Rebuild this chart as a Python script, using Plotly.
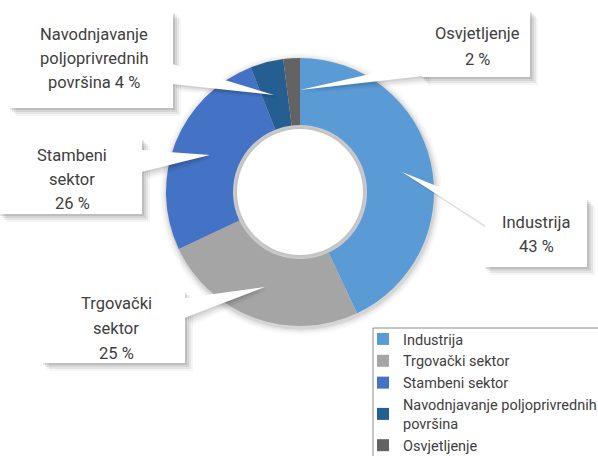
import plotly.graph_objects as go

categories = ["Industrija", "Trgovački sektor", "Stambeni sektor",
              "Navodnjavanje poljoprivrednih<br>površina", "Osvjetljenje"]
values = [43, 25, 26, 4, 2]
colors = ["#5b9bd5", "#a5a5a5", "#4472c4", "#255e91", "#636363"]
callout_lines = [
    ["Industrija", "43 %"],
    ["Trgovački", "sektor", "25 %"],
    ["Stambeni", "sektor", "26 %"],
    ["Navodnjavanje", "poljoprivrednih", "površina 4 %"],
    ["Osvjetljenje", "2 %"],
]

W, H = 598, 456
FONT = "Roboto"
TXT = "#404040"

def px(x):
    return x / W

def py(y):
    return 1 - y / H

# pie geometry (pixels)
cx, cy, R = 300, 192, 134
HOLE = 0.5

fig = go.Figure()
fig.add_trace(go.Pie(
    labels=categories, values=values, hole=HOLE, sort=False, direction="clockwise",
    rotation=0, marker=dict(colors=colors, line=dict(width=0)), textinfo="none",
    domain=dict(x=[px(cx - R), px(cx + R)], y=[py(cy + R), py(cy - R)]),
))

# callout geometry: box, wedge base, wedge tip, text centre x, first line y, line step
boxes = [
    dict(box=(485, 200, 587, 267), base=[(486, 206), (486, 226)], tip=(402, 172), tx=536, ty0=222, step=24.5),
    dict(box=(43, 293, 185, 363), base=[(184, 298), (184, 318)], tip=(265, 287), tx=116, ty0=303, step=25),
    dict(box=(0, 140, 142, 214), base=[(141, 150), (141, 172)], tip=(210, 155), tx=72, ty0=155, step=24),
    dict(box=(10, 13, 173, 108), base=[(172, 64), (172, 84)], tip=(274, 95), tx=94, ty0=35, step=23.5),
    dict(box=(422, 12, 530, 77), base=[(423, 62), (423, 76)], tip=(300, 90), tx=477, ty0=33, step=26),
]

shapes = []
def poly(pts):
    return "M " + " L ".join(f"{px(x)},{py(y)}" for x, y in pts) + " Z"

# soft shadow around the donut
for r_add, op in [(7, 0.025), (5, 0.035), (3, 0.05), (1.5, 0.06)]:
    shapes.append(dict(type="circle", xref="paper", yref="paper",
                       x0=px(cx - R - r_add + 1), x1=px(cx + R + r_add + 1),
                       y0=py(cy + R + r_add + 2), y1=py(cy - R - r_add + 2),
                       fillcolor=f"rgba(0,0,0,{op})", line=dict(width=0), layer="below"))
# keep the hole white, with a faint inner shade
r_in = R * HOLE
for r_sub, col in [(0, "rgba(0,0,0,0.05)"), (2, "rgba(0,0,0,0.03)"), (4, "white")]:
    shapes.append(dict(type="circle", xref="paper", yref="paper",
                       x0=px(cx - r_in + r_sub), x1=px(cx + r_in - r_sub),
                       y0=py(cy + r_in - r_sub), y1=py(cy - r_in + r_sub),
                       fillcolor=col, line=dict(width=0), layer="below"))

# soft shadows of the callouts
for b in boxes:
    x0, y0, x1, y1 = b["box"]
    (bx1, by1), (bx2, by2) = b["base"]
    tx, ty = b["tip"]
    for off, op in [(8, 0.04), (6, 0.06), (4, 0.08), (2, 0.10)]:
        shapes.append(dict(type="rect", xref="paper", yref="paper",
                           x0=px(x0 + off - 2), x1=px(x1 + off), y0=py(y1 + off), y1=py(y0 + off - 2),
                           fillcolor=f"rgba(0,0,0,{op})", line=dict(width=0), layer="above"))
        shapes.append(dict(type="path", xref="paper", yref="paper",
                           path=poly([(bx1 + off, by1 + off), (tx + off * 0.4, ty + off * 0.4), (bx2 + off, by2 + off)]),
                           fillcolor=f"rgba(0,0,0,{op * 0.7})", line=dict(width=0), layer="above"))
for b in boxes:
    x0, y0, x1, y1 = b["box"]
    (bx1, by1), (bx2, by2) = b["base"]
    tx, ty = b["tip"]
    shapes.append(dict(type="path", xref="paper", yref="paper",
                       path=poly([(bx1, by1), (tx, ty), (bx2, by2)]),
                       fillcolor="white", line=dict(width=0), layer="above"))
    shapes.append(dict(type="rect", xref="paper", yref="paper",
                       x0=px(x0), x1=px(x1), y0=py(y1), y1=py(y0),
                       fillcolor="white", line=dict(width=0), layer="above"))

# legend frame
shapes.append(dict(type="rect", xref="paper", yref="paper",
                   x0=px(373), x1=px(605), y0=py(462), y1=py(328),
                   fillcolor="white", line=dict(color="#8c8c8c", width=1), layer="above"))

annotations = []
for b, lines in zip(boxes, callout_lines):
    for i, line in enumerate(lines):
        annotations.append(dict(x=px(b["tx"]), y=py(b["ty0"] + i * b["step"]), xref="paper", yref="paper",
                                text=line, showarrow=False, xanchor="center", yanchor="middle",
                                font=dict(family=FONT, size=16.5, color=TXT)))

fig.update_layout(
    width=W, height=H, margin=dict(l=0, r=0, t=0, b=0, autoexpand=False),
    paper_bgcolor="white", plot_bgcolor="white",
    shapes=shapes, annotations=annotations,
    legend=dict(x=px(363), y=py(323), xanchor="left", yanchor="top",
                borderwidth=0, bgcolor="rgba(0,0,0,0)",
                font=dict(family=FONT, size=14.5, color=TXT),
                itemwidth=30, tracegroupgap=0),
    showlegend=True,
)

fig.write_html("out.html", config={"displayModeBar": False},
               post_script="document.body.style.margin='0';document.documentElement.style.overflow='hidden';")
